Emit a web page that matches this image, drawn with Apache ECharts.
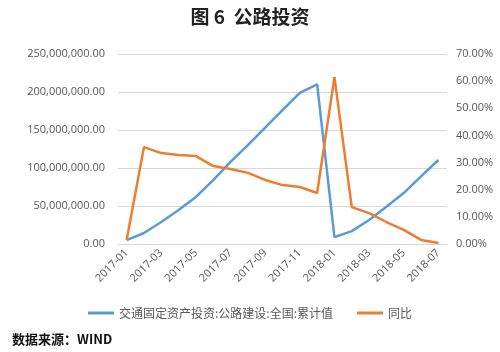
<!DOCTYPE html>
<html>
<head>
<meta charset="utf-8">
<script src="https://cdn.jsdelivr.net/npm/echarts@6/dist/echarts.min.js"></script>
<style>
  html, body { margin: 0; padding: 0; background: #fff; }
  #chart { width: 500px; height: 352px; }
</style>
</head>
<body>
<div id="chart"></div>
<script>
const months = [
  '2017-01', '2017-02', '2017-03', '2017-04', '2017-05', '2017-06', '2017-07',
  '2017-08', '2017-09', '2017-10', '2017-11', '2017-12', '2018-01', '2018-02',
  '2018-03', '2018-04', '2018-05', '2018-06', '2018-07'
];
// cumulative investment, yuan (left axis)
const cumulative = [
  5000000, 14500000, 29000000, 44700000, 62000000, 84000000, 108000000,
  130000000, 153000000, 176000000, 199000000, 210000000, 9000000, 17000000,
  31500000, 49000000, 67000000, 89000000, 110500000
];
// year-on-year, percent (right axis)
const yoy = [
  1.5, 35.7, 33.5, 32.8, 32.4, 28.7, 27.6, 26.2, 23.6, 21.7, 21.0, 18.8,
  61.5, 13.6, 11.4, 8.1, 5.2, 1.5, 0.4
];
const seriesNames = ['交通固定资产投资:公路建设:全国:累计值', '同比'];

const chart = echarts.init(document.getElementById('chart'), null, { renderer: 'canvas' });

const labelColor = '#595959';
const fmtMoney = v => v.toLocaleString('en-US', { minimumFractionDigits: 2, maximumFractionDigits: 2 });

const option = {
  backgroundColor: '#fff',
  animation: false,
  title: {
    text: '图 6  公路投资',
    left: 'center',
    top: 2,
    textStyle: {
      fontFamily: 'Noto Sans CJK SC',
      fontSize: 19,
      fontWeight: 'bold',
      color: '#222'
    }
  },
  graphic: [{
    type: 'text',
    left: 12,
    top: 333,
    style: {
      text: '数据来源：WIND',
      font: 'bold 13px "Noto Sans CJK SC"',
      fill: '#111'
    }
  }],
  grid: { left: 118, right: 53, top: 54, bottom: 108 },
  legend: {
    top: 302,
    left: 'center',
    itemWidth: 26,
    itemHeight: 3,
    itemGap: 24,
    icon: 'rect',
    textStyle: { color: labelColor, fontSize: 12, fontFamily: 'Noto Sans CJK SC' },
    data: seriesNames
  },
  xAxis: {
    type: 'category',
    data: months,
    boundaryGap: true,
    axisTick: { show: false },
    axisLine: { lineStyle: { color: '#d9d9d9' } },
    axisLabel: {
      interval: 1,
      rotate: 45,
      color: labelColor,
      fontSize: 11,
      fontFamily: 'Open Sans',
      margin: 7
    }
  },
  yAxis: [
    {
      type: 'value',
      min: 0,
      max: 250000000,
      interval: 50000000,
      axisLine: { show: false },
      axisTick: { show: false },
      splitLine: { lineStyle: { color: '#d9d9d9' } },
      axisLabel: { color: labelColor, fontSize: 11, fontFamily: 'Open Sans', margin: 13, formatter: fmtMoney }
    },
    {
      type: 'value',
      min: 0,
      max: 70,
      interval: 10,
      axisLine: { show: false },
      axisTick: { show: false },
      splitLine: { show: false },
      axisLabel: { color: labelColor, fontSize: 11, fontFamily: 'Open Sans', margin: 9, formatter: v => v.toFixed(2) + '%' }
    }
  ],
  series: [
    {
      name: seriesNames[0],
      type: 'line',
      yAxisIndex: 0,
      data: cumulative,
      showSymbol: false,
      color: '#5B9BD5',
      lineStyle: { width: 2.5, color: '#5B9BD5' }
    },
    {
      name: seriesNames[1],
      type: 'line',
      yAxisIndex: 1,
      data: yoy,
      showSymbol: false,
      color: '#ED7D31',
      lineStyle: { width: 2.5, color: '#ED7D31' }
    }
  ]
};

chart.setOption(option);
</script>
</body>
</html>
